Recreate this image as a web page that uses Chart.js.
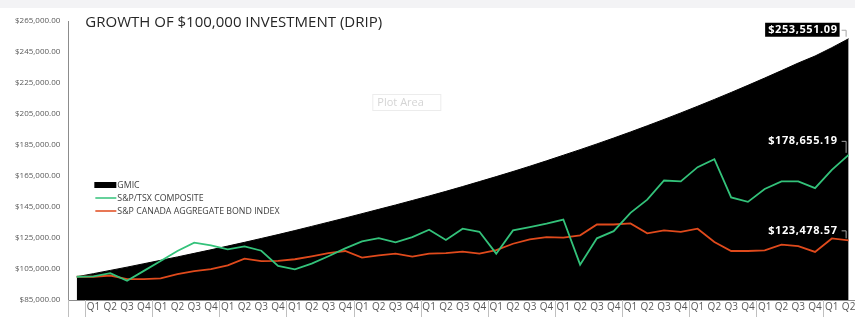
<!DOCTYPE html>
<html>
<head>
<meta charset="utf-8">
<script src="https://cdn.jsdelivr.net/npm/chart.js@4.4.0/dist/chart.umd.min.js"></script>
<style>
  html, body { margin: 0; padding: 0; background: #fff; overflow: hidden; }
  #wrap { position: absolute; left: 0; top: 0; }
  #topband { position: absolute; left: 0; top: 0; width: 855px; height: 8px; background: #f3f3f5; }
</style>
</head>
<body>
<div id="wrap"><canvas id="growth" width="862" height="330"></canvas></div>
<div id="topband"></div>
<script>
const quarters = ['',
  'Q1','Q2','Q3','Q4', 'Q1','Q2','Q3','Q4', 'Q1','Q2','Q3','Q4', 'Q1','Q2','Q3','Q4',
  'Q1','Q2','Q3','Q4', 'Q1','Q2','Q3','Q4', 'Q1','Q2','Q3','Q4', 'Q1','Q2','Q3','Q4',
  'Q1','Q2','Q3','Q4', 'Q1','Q2','Q3','Q4', 'Q1','Q2','Q3','Q4', 'Q1','Q2'];

const gmic = [100000, 102000, 104100, 106200, 108400, 110600, 112800, 115100, 117400, 119800,
  122200, 124700, 127200, 129800, 132500, 135200, 137900, 140700, 143500, 146300,
  149200, 152100, 155100, 158200, 161400, 164600, 167900, 171300, 174800, 178400,
  182000, 185700, 189500, 193400, 197400, 201500, 205700, 210000, 214400, 218900,
  223500, 228200, 233000, 237900, 242400, 247800, 253551.09];

const tsx = [100000, 100200, 102300, 97400, 103800, 110200, 116600, 122000, 120300, 117700,
  119600, 116800, 107000, 104800, 108500, 113200, 118300, 122800, 124900, 122200,
  125600, 130300, 123700, 131000, 129000, 114900, 129900, 132000, 134200, 136900,
  107800, 124800, 129400, 141200, 149700, 162100, 161500, 170700, 175800, 151200,
  148300, 156600, 161500, 161500, 157200, 169000, 178655.19];

const bond = [100000, 100000, 100800, 98500, 98500, 98900, 101700, 103600, 104900, 107400,
  111700, 110100, 110200, 111300, 113200, 115200, 116600, 112400, 113800, 114900,
  113000, 114900, 115300, 116200, 114900, 117200, 121300, 124100, 125600, 125200,
  126700, 133700, 133700, 134400, 128000, 129900, 129000, 131000, 122400, 116600,
  116600, 117000, 120700, 119800, 116000, 124700, 123478.57];

const seriesNames = ['GMIC', 'S&P/TSX COMPOSITE', 'S&P CANADA AGGREGATE BOND INDEX'];
const seriesColors = ['#000000', '#33c27a', '#e04a1c'];
const yTicks = { min: 85000, max: 265000, step: 20000 };

const money = v => '$' + Number(v).toLocaleString('en-US', { minimumFractionDigits: 2, maximumFractionDigits: 2 });
const FONT = "'Open Sans', 'Noto Sans', sans-serif";

// group separators under the quarter labels
const groupLines = {
  id: 'groupLines',
  afterDraw(chart) {
    const sx = chart.scales.x, ctx = chart.ctx, area = chart.chartArea;
    const half = (sx.getPixelForValue(1) - sx.getPixelForValue(0)) / 2;
    ctx.save();
    ctx.strokeStyle = '#bfbfbf';
    ctx.lineWidth = 1;
    quarters.forEach((q, i) => {
      if (i === 0 || q === 'Q1') {
        const x = Math.round(sx.getPixelForValue(i) - half) + 0.5;
        ctx.beginPath();
        ctx.moveTo(x, area.bottom);
        ctx.lineTo(x, chart.height);
        ctx.stroke();
      }
    });
    ctx.restore();
  }
};

// title, legend, plot area hint, end labels
const extras = {
  id: 'extras',
  afterDraw(chart) {
    const ctx = chart.ctx, area = chart.chartArea;
    ctx.save();

    ctx.fillStyle = '#262626';
    ctx.font = '15px ' + FONT;
    ctx.textBaseline = 'middle';
    ctx.fillText('GROWTH OF $100,000 INVESTMENT (DRIP)', area.left + 17, area.top + 2);

    // "Plot Area" hint box
    const px = area.left + 304, py = area.top + 73;
    ctx.fillStyle = '#ffffff';
    ctx.strokeStyle = '#ececec';
    ctx.fillRect(px, py, 68, 16);
    ctx.strokeRect(px + 0.5, py + 0.5, 68, 16);
    ctx.fillStyle = '#d4d4d4';
    ctx.font = '11px ' + FONT;
    ctx.fillText('Plot Area', px + 5, py + 8.5);

    // legend
    const lx = area.left + 26;
    ctx.font = '8.8px ' + FONT;
    seriesNames.forEach((name, i) => {
      const ly = area.top + 164 + i * 13;
      if (i === 0) {
        ctx.fillStyle = seriesColors[i];
        ctx.fillRect(lx, ly - 3, 22, 6);
      } else {
        ctx.strokeStyle = seriesColors[i];
        ctx.lineWidth = 1.5;
        ctx.beginPath();
        ctx.moveTo(lx + 1, ly);
        ctx.lineTo(lx + 22, ly);
        ctx.stroke();
      }
      ctx.fillStyle = '#404040';
      ctx.fillText(name, lx + 23, ly + 0.5);
    });

    // end-of-series value labels with leader lines
    const labelLift = [9, 14, 10];
    ctx.font = 'bold 11px ' + FONT;
    ctx.letterSpacing = '0.6px';
    ctx.textAlign = 'right';
    [0, 1, 2].forEach(d => {
      const meta = chart.getDatasetMeta(d);
      const pt = meta.data[meta.data.length - 1];
      const text = money(chart.data.datasets[d].data[meta.data.length - 1]);
      const tx = pt.x - 11, ty = pt.y - labelLift[d];
      const w = ctx.measureText(text).width;
      if (d === 0) {
        ctx.fillStyle = '#000';
        ctx.fillRect(tx - w - 3, ty - 7, w + 5, 14);
      }
      ctx.fillStyle = '#ffffff';
      ctx.fillText(text, tx, ty + 0.5);
      ctx.strokeStyle = '#a6a6a6';
      ctx.lineWidth = 1;
      ctx.beginPath();
      ctx.moveTo(tx + 4, ty + 0.5);
      ctx.lineTo(pt.x - 2.5, ty + 0.5);
      ctx.lineTo(pt.x - 2.5, pt.y - 2);
      ctx.stroke();
    });
    ctx.restore();
  }
};

new Chart(document.getElementById('growth').getContext('2d'), {
  type: 'line',
  data: {
    labels: quarters,
    datasets: [{
      label: seriesNames[0],
      data: gmic,
      borderColor: seriesColors[0],
      backgroundColor: seriesColors[0],
      borderWidth: 1,
      fill: 'start',
      pointRadius: 0,
      order: 3
    }, {
      label: seriesNames[1],
      data: tsx,
      borderColor: seriesColors[1],
      borderWidth: 1.8,
      fill: false,
      pointRadius: 0,
      order: 1
    }, {
      label: seriesNames[2],
      data: bond,
      borderColor: seriesColors[2],
      borderWidth: 1.8,
      fill: false,
      pointRadius: 0,
      order: 2
    }]
  },
  options: {
    responsive: false,
    animation: false,
    layout: { padding: { top: 21, left: 7, right: 5, bottom: 16 } },
    plugins: { legend: { display: false }, tooltip: { enabled: false } },
    scales: {
      x: {
        offset: true,
        grid: { display: false, drawTicks: false },
        border: { color: '#8c8c8c' },
        ticks: { autoSkip: false, maxRotation: 0, padding: 1, color: '#595959', font: { family: FONT, size: 10 } }
      },
      y: {
        min: yTicks.min,
        max: yTicks.max,
        grid: { display: false, drawTicks: false },
        border: { color: '#8c8c8c' },
        ticks: {
          stepSize: yTicks.step,
          padding: 8,
          color: '#595959',
          font: { family: FONT, size: 8 },
          callback: v => money(v)
        }
      }
    }
  },
  plugins: [groupLines, extras]
});
</script>
</body>
</html>
